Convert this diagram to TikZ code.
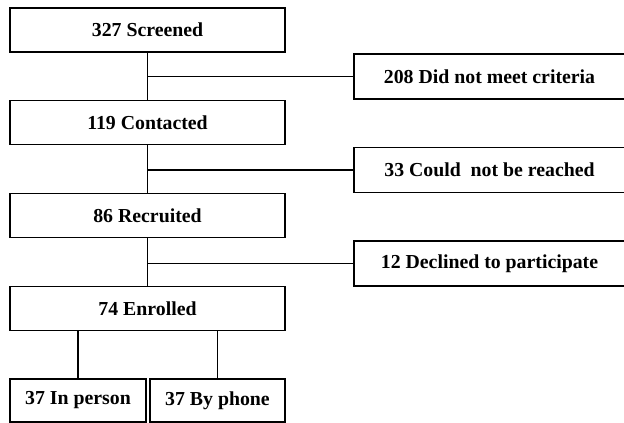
\documentclass[tikz,border=0pt]{standalone}
\usepackage{fontspec}
\setmainfont{Liberation Serif}
\begin{document}
\begin{tikzpicture}[x=1pt,y=-1pt,
  box/.style={draw=black, line width=1.2pt, rectangle, inner sep=0pt,
    font=\fontsize{19.8}{23}\selectfont\bfseries, fill=white},
  mainbox/.style={box, minimum width=275pt, minimum height=44pt},
  sidebox/.style={box, minimum width=271pt, minimum height=45pt},
  smallbox/.style={box, minimum width=136pt, minimum height=43pt},
  link/.style={line width=1.2pt, draw=black}]
\clip (0,0) rectangle (624,423);
\fill[white] (0,0) rectangle (624,423);
% main column
\node[mainbox] (scr) at (147.5,30) {327 Screened};
\node[mainbox] (con) at (147.5,122.5) {119 Contacted};
\node[mainbox] (rec) at (147.5,215.5) {86 Recruited};
\node[mainbox] (enr) at (147.5,308.5) {74 Enrolled};
% side boxes
\node[sidebox] (crit) at (489.5,76.5) {208 Did not meet criteria};
\node[sidebox] (reach) at (489.5,170) {33 Could\ \ not be reached};
\node[sidebox] (decl) at (489.5,263.5) {12 Declined to participate};
% bottom boxes
\node[smallbox] (inp) at (78,400.5) {37 In person};
\node[smallbox, minimum width=135pt] (phone) at (217.5,400.5) {37 By phone};
% connectors
\draw[link] (scr.south) -- (con.north);
\draw[link] (con.south) -- (rec.north);
\draw[link] (rec.south) -- (enr.north);
\draw[link] (scr.south |- crit.west) -- (crit.west);
\draw[link] (con.south |- reach.west) -- (reach.west);
\draw[link] (rec.south |- decl.west) -- (decl.west);
\draw[link] (enr.south -| inp.north) -- (inp.north);
\draw[link] (enr.south -| phone.north) -- (phone.north);
\end{tikzpicture}
\end{document}
